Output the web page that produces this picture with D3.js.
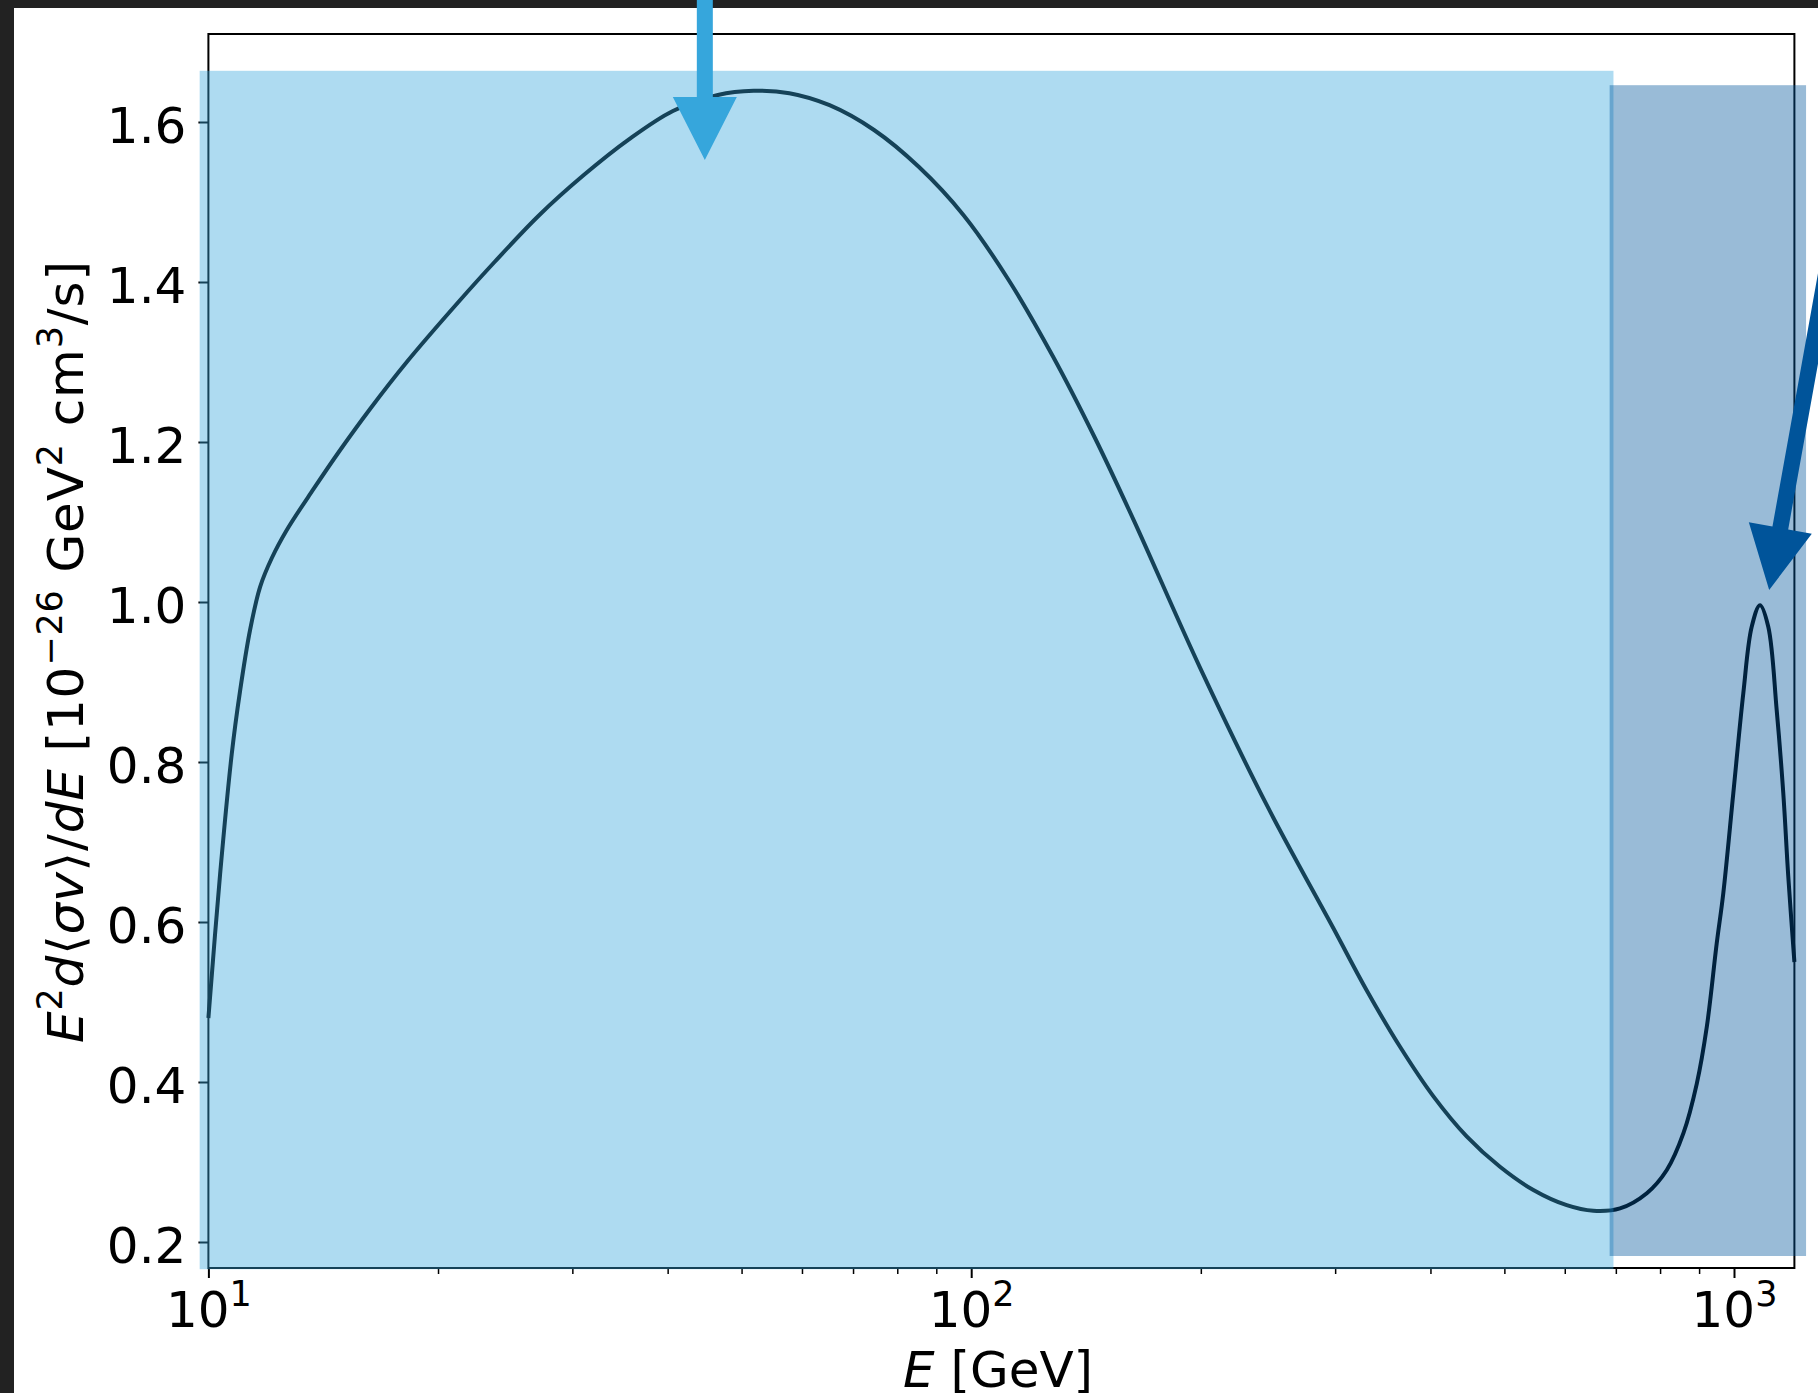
<!DOCTYPE html>
<html>
<head>
<meta charset="utf-8">
<script src="https://cdn.jsdelivr.net/npm/d3@7"></script>
<style>
  html, body { margin: 0; padding: 0; background: #ffffff; }
  svg { display: block; }
</style>
</head>
<body>
<svg id="chart" width="1818" height="1393"></svg>
<script>
// Annihilation spectrum: photon energy E (GeV) and E^2 d<sigma v>/dE (10^-26 GeV^2 cm^3/s)
const energy = [10.0, 10.36, 10.73, 11.0, 11.34, 11.69, 12.11, 12.67, 13.73, 14.87,
  16.29, 18.2, 21.27, 23.72, 27.16, 31.08, 35.55, 40.64, 46.55, 51.85,
  57.76, 65.21, 74.58, 85.35, 97.67, 111.75, 127.9, 145.3, 163.2, 199.5,
  244.0, 298.3, 329.9, 364.9, 403.6, 446.2, 493.4, 545.7, 603.5, 654.0,
  708.9, 768.6, 816.4, 858.4, 893.8, 921.2, 949.1, 968.2, 997.9, 1028.5,
  1054.9, 1081.6, 1109.0, 1137.5, 1160.4, 1178.0, 1200.0];
const spectrum = [0.48, 0.66, 0.81, 0.888, 0.965, 1.019, 1.055, 1.09, 1.141, 1.1894,
  1.2413, 1.30, 1.375, 1.425, 1.4838, 1.534, 1.578, 1.6138, 1.6338, 1.639,
  1.636, 1.621, 1.59, 1.544, 1.4838, 1.4038, 1.3075, 1.205, 1.103, 0.918,
  0.7463, 0.5925, 0.5147, 0.444, 0.382, 0.332, 0.294, 0.265, 0.246, 0.239,
  0.242, 0.261, 0.29, 0.336, 0.398, 0.469, 0.573, 0.636, 0.761, 0.886,
  0.969, 0.996, 0.969, 0.865, 0.761, 0.657, 0.55];

// Highlighted energy bands (continuum part and line-like bump)
const bandStart  = [9.74, 687];
const bandEnd    = [695, 1243];
const bandTop    = [1.664, 1.646];
const bandBottom = [0.166, 0.1825];
const bandColors = ["#35a6dc", "#00549a"];

// Pointer arrows (tail -> tip, in data units)
const arrowTailE = [44.75, 1574];
const arrowTailV = [1.77, 1.815];
const arrowTipE  = [44.75, 1112];
const arrowTipV  = [1.5525, 1.015];
const arrowColors = ["#36a6dc", "#00549a"];

// Axis ticks
const yTicks = [0.2, 0.4, 0.6, 0.8, 1.0, 1.2, 1.4, 1.6];
const xMajorTicks = [10, 100, 1000];
const xTickExponents = ["1", "2", "3"];
const xMinorTicks = [20, 30, 40, 50, 60, 70, 80, 90, 200, 300, 400, 500, 600, 700, 800, 900];

const FONT = "'DejaVu Sans', sans-serif";
const FS = 50, SUP = 35, RAISE = 21;

const svg = d3.select("#chart");
const W = 1818, H = 1393;
const plotL = 208.4, plotR = 1794.4, plotT = 34, plotB = 1268;

const x = d3.scaleLog().domain([10, 1200]).range([plotL, plotR]);
const y = d3.scaleLinear().domain([0.1675, 1.71]).range([plotB, plotT]);

svg.append("rect").attr("width", W).attr("height", H).attr("fill", "#ffffff");

// Window frame edges
svg.append("rect").attr("x", 0).attr("y", 0).attr("width", W).attr("height", 8).attr("fill", "#222222");
svg.append("rect").attr("x", 0).attr("y", 0).attr("width", 14).attr("height", H).attr("fill", "#222222");

// Spectrum curve
const pts = energy.map((e, i) => [e, spectrum[i]]);
svg.append("path")
  .datum(pts)
  .attr("fill", "none")
  .attr("stroke", "#000000")
  .attr("stroke-width", 4)
  .attr("stroke-linejoin", "round")
  .attr("d", d3.line().x(d => x(d[0])).y(d => y(d[1])).curve(d3.curveCatmullRom.alpha(0.5)));

// Y axis
const yAxis = svg.append("g")
  .attr("transform", `translate(${plotL},0)`)
  .call(d3.axisLeft(y).tickValues(yTicks).tickSize(10).tickSizeOuter(0).tickPadding(12)
    .tickFormat(d3.format(".1f")));
yAxis.select(".domain").remove();
yAxis.selectAll(".tick line").attr("stroke", "#000").attr("stroke-width", 2);
yAxis.selectAll(".tick text")
  .attr("font-family", FONT).attr("font-size", FS).attr("fill", "#000").attr("dy", "0.4em");

// X axis: minor ticks
const xMinor = svg.append("g")
  .attr("transform", `translate(0,${plotB})`)
  .call(d3.axisBottom(x).tickValues(xMinorTicks).tickSize(6).tickSizeOuter(0).tickFormat(""));
xMinor.select(".domain").remove();
xMinor.selectAll(".tick line").attr("stroke", "#000").attr("stroke-width", 1.5);

// X axis: major ticks with power-of-ten labels
const xMajor = svg.append("g")
  .attr("transform", `translate(0,${plotB})`)
  .call(d3.axisBottom(x).tickValues(xMajorTicks).tickSize(10).tickSizeOuter(0).tickFormat(""));
xMajor.select(".domain").remove();
xMajor.selectAll(".tick line").attr("stroke", "#000").attr("stroke-width", 2);
xMajor.selectAll(".tick").each(function (d, i) {
  const t = d3.select(this).append("text")
    .attr("y", 59).attr("text-anchor", "middle")
    .attr("font-family", FONT).attr("font-size", FS).attr("fill", "#000");
  t.append("tspan").text("10");
  t.append("tspan").attr("font-size", SUP).attr("dy", -RAISE).text(xTickExponents[i]);
});

// Axes frame
svg.append("rect")
  .attr("x", plotL).attr("y", plotT)
  .attr("width", plotR - plotL).attr("height", plotB - plotT)
  .attr("fill", "none").attr("stroke", "#000").attr("stroke-width", 2);

// Rich-text helper for labels with italics and superscripts
function richText(sel, parts) {
  let raised = false;
  parts.forEach(p => {
    const ts = sel.append("tspan").text(p.t);
    if (p.it) ts.attr("font-style", "italic");
    if (p.sup) {
      ts.attr("font-size", SUP);
      if (!raised) { ts.attr("dy", -RAISE); raised = true; }
    } else if (raised) {
      ts.attr("dy", RAISE); raised = false;
    }
  });
}

// Y label
const yl = svg.append("text")
  .attr("transform", "translate(83,652) rotate(-90)")
  .attr("text-anchor", "middle")
  .attr("textLength", 782)
  .attr("lengthAdjust", "spacing")
  .attr("font-family", FONT).attr("font-size", FS).attr("fill", "#000");
richText(yl, [
  { t: "E", it: true }, { t: "2", sup: true },
  { t: "d", it: true }, { t: "\u27E8" }, { t: "\u03C3v", it: true }, { t: "\u27E9/" },
  { t: "dE", it: true }, { t: " [10" }, { t: "\u221226", sup: true },
  { t: " GeV" }, { t: "2", sup: true }, { t: " cm" }, { t: "3", sup: true }, { t: "/s]" }
]);

// X label
const xl = svg.append("text")
  .attr("x", 998).attr("y", 1387)
  .attr("text-anchor", "middle")
  .attr("font-family", FONT).attr("font-size", FS).attr("fill", "#000");
richText(xl, [{ t: "E", it: true }, { t: " [GeV]" }]);

// Translucent highlight bands
svg.append("g").selectAll("rect")
  .data(bandStart)
  .join("rect")
  .attr("x", (d, i) => x(d))
  .attr("y", (d, i) => y(bandTop[i]))
  .attr("width", (d, i) => x(bandEnd[i]) - x(d))
  .attr("height", (d, i) => y(bandBottom[i]) - y(bandTop[i]))
  .attr("fill", (d, i) => bandColors[i])
  .attr("fill-opacity", 0.4);

// Arrows
const SHAFT = 8, HEAD_W = 32, HEAD_L = 63;
svg.append("g").selectAll("path")
  .data(arrowTailE)
  .join("path")
  .attr("fill", (d, i) => arrowColors[i])
  .attr("d", (d, i) => {
    const x0 = x(d), y0 = y(arrowTailV[i]);
    const x1 = x(arrowTipE[i]), y1 = y(arrowTipV[i]);
    const len = Math.hypot(x1 - x0, y1 - y0);
    const ux = (x1 - x0) / len, uy = (y1 - y0) / len;
    const nx = -uy, ny = ux;
    const bx = x1 - ux * HEAD_L, by = y1 - uy * HEAD_L;
    const p = [
      [x0 + nx * SHAFT, y0 + ny * SHAFT],
      [bx + nx * SHAFT, by + ny * SHAFT],
      [bx + nx * HEAD_W, by + ny * HEAD_W],
      [x1, y1],
      [bx - nx * HEAD_W, by - ny * HEAD_W],
      [bx - nx * SHAFT, by - ny * SHAFT],
      [x0 - nx * SHAFT, y0 - ny * SHAFT]
    ];
    return "M" + p.map(q => q.join(",")).join("L") + "Z";
  });
</script>
</body>
</html>
